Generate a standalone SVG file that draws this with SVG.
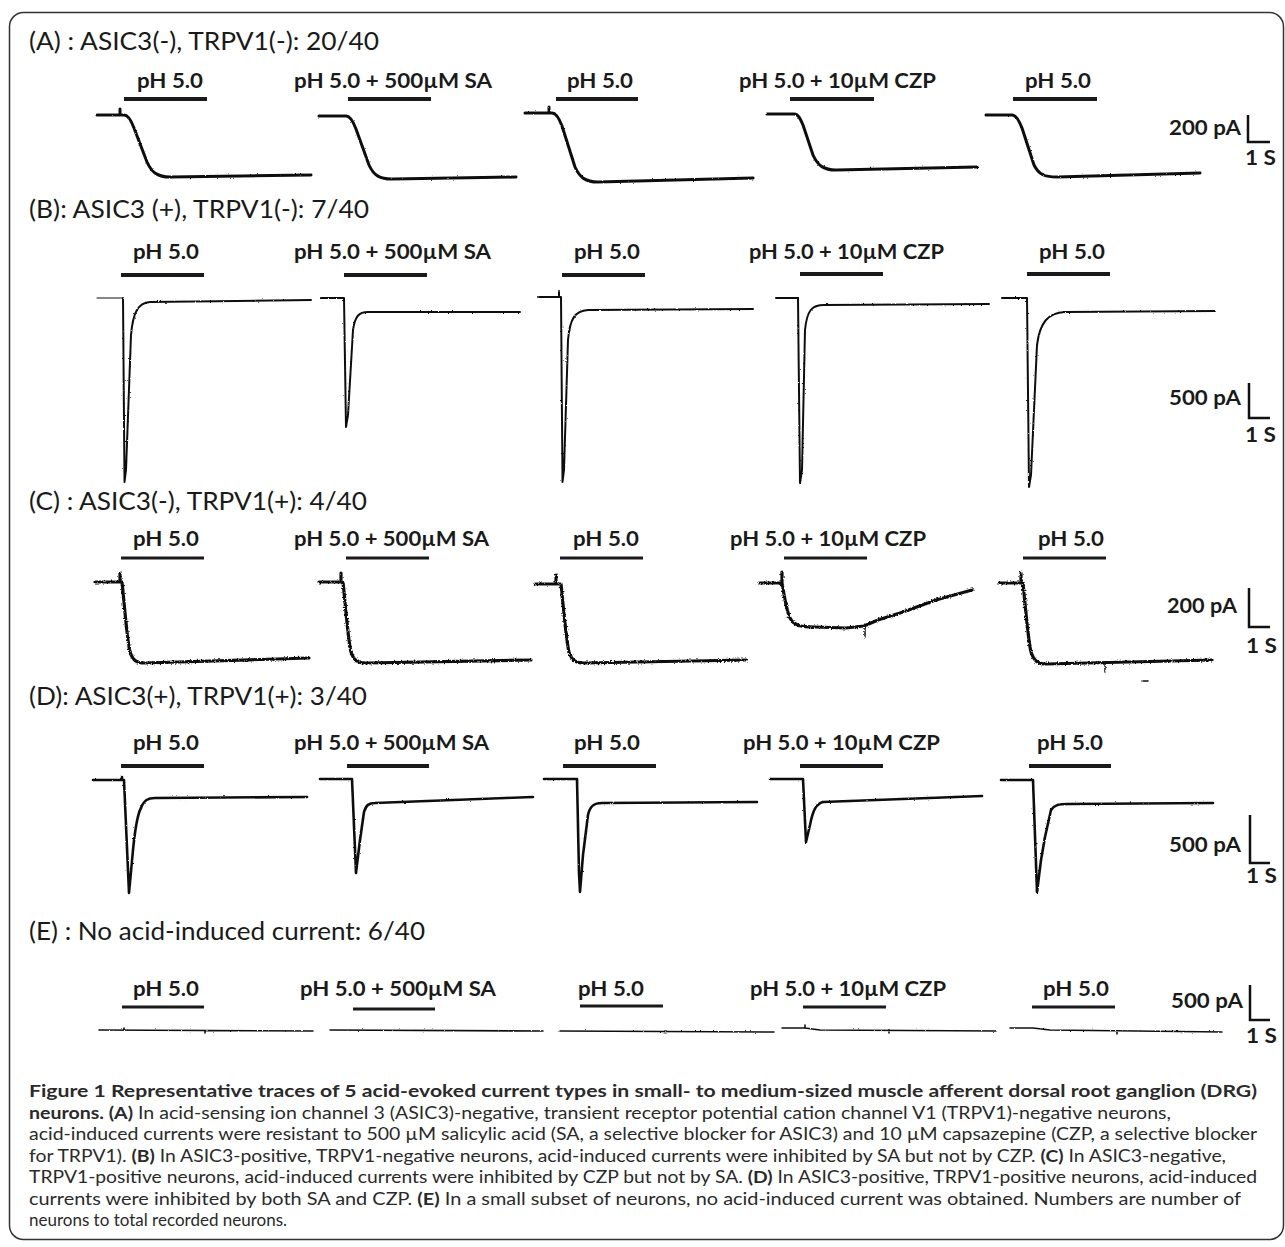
<svg xmlns="http://www.w3.org/2000/svg" width="1285" height="1247" viewBox="0 0 1285 1247">
<defs>
<style>
.hd{font-family:Lato,"Open Sans","Liberation Sans",sans-serif;font-size:25px;fill:#1a1a1a}
.lb{font-family:Lato,"Open Sans","Liberation Sans",sans-serif;font-size:21px;font-weight:700;fill:#1a1a1a}
.cap{font-family:Lato,"Open Sans","Liberation Sans",sans-serif;font-size:17px;fill:#2a2a2a}
.b{font-weight:700}
.bar{stroke:#1a1a1a;stroke-width:4;fill:none}
.barT{stroke:#1a1a1a;stroke-width:3;fill:none}
.tr{fill:none;stroke:#111;stroke-linejoin:round;stroke-linecap:round}
.sb{fill:none;stroke:#111;stroke-width:2.5}
</style>
<filter id="rough" filterUnits="userSpaceOnUse" x="0" y="0" width="1285" height="1247">
<feTurbulence type="fractalNoise" baseFrequency="0.6" numOctaves="1" seed="3"/>
<feDisplacementMap in="SourceGraphic" scale="2.2" xChannelSelector="R" yChannelSelector="G"/>
</filter>
<filter id="rough2" filterUnits="userSpaceOnUse" x="0" y="0" width="1285" height="1247">
<feTurbulence type="fractalNoise" baseFrequency="0.7" numOctaves="1" seed="7"/>
<feDisplacementMap in="SourceGraphic" scale="3.5" xChannelSelector="R" yChannelSelector="G"/>
</filter>
</defs>
<rect x="0" y="0" width="1285" height="1247" fill="#fff"/>
<rect id="frame" x="9.5" y="12.5" width="1274" height="1227" rx="14" fill="none" stroke="#333" stroke-width="1.5"/>

<g id="rowA">
<text class="hd" x="29" y="50" textLength="350" lengthAdjust="spacingAndGlyphs">(A) : ASIC3(-), TRPV1(-): 20/40</text>
<text class="lb" x="137" y="88" textLength="66" lengthAdjust="spacingAndGlyphs">pH 5.0</text>
<text class="lb" x="294" y="88" textLength="198" lengthAdjust="spacingAndGlyphs">pH 5.0 + 500µM SA</text>
<text class="lb" x="567" y="88" textLength="66" lengthAdjust="spacingAndGlyphs">pH 5.0</text>
<text class="lb" x="739" y="88" textLength="197" lengthAdjust="spacingAndGlyphs">pH 5.0 + 10µM CZP</text>
<text class="lb" x="1025" y="88" textLength="66" lengthAdjust="spacingAndGlyphs">pH 5.0</text>
<path class="bar" d="M124,99H207M348,99H431M556,99H638M790,99H874M1013,99H1097"/>
<g filter="url(#rough)">
<path class="tr" stroke-width="3" d="M97,115H124C128,115 131,120 134,128L147,162C152,173 158,177 170,177L311,175M120,115V109"/>
<path class="tr" stroke-width="3" d="M319,116H346C350,116 353,121 356,129L369,165C374,176 380,179 392,179L516,177"/>
<path class="tr" stroke-width="3" d="M525,113H552C556,113 559,118 562,126L575,167C580,178 586,182 598,182L753,178M549,113V107"/>
<path class="tr" stroke-width="3" d="M767,114H794C798,114 800,118 803,125L813,155C818,166 824,170 836,170L977,167"/>
<path class="tr" stroke-width="3" d="M986,115H1012C1016,115 1019,120 1022,128L1034,165C1039,175 1045,177 1057,177L1200,173"/>
</g>
<text class="lb" x="1169" y="135" textLength="72" lengthAdjust="spacingAndGlyphs">200 pA</text>
<text class="lb" x="1245" y="165" textLength="31" lengthAdjust="spacingAndGlyphs">1 S</text>
<path class="sb" d="M1248,115V142H1270"/>
</g>

<g id="rowB">
<text class="hd" x="29" y="218" textLength="340" lengthAdjust="spacingAndGlyphs">(B): ASIC3 (+), TRPV1(-): 7/40</text>
<text class="lb" x="133" y="259" textLength="66" lengthAdjust="spacingAndGlyphs">pH 5.0</text>
<text class="lb" x="294" y="259" textLength="197" lengthAdjust="spacingAndGlyphs">pH 5.0 + 500µM SA</text>
<text class="lb" x="574" y="259" textLength="66" lengthAdjust="spacingAndGlyphs">pH 5.0</text>
<text class="lb" x="749" y="259" textLength="195" lengthAdjust="spacingAndGlyphs">pH 5.0 + 10µM CZP</text>
<text class="lb" x="1039" y="259" textLength="66" lengthAdjust="spacingAndGlyphs">pH 5.0</text>
<path class="bar" d="M121,275H204M344,275H427M562,275H645M800,274H883M1027,274H1110"/>
<path class="tr" stroke="#888" stroke-width="1.2" d="M97,298H123"/>
<g filter="url(#rough)">
<path class="tr" stroke-width="2" d="M123,298L124.5,482L126,470L131,335C133,312 138,303 150,302L311,300"/>
<path class="tr" stroke-width="2" d="M321,298H344L346,427L348,415L353,330C355,316 359,312 368,312L520,312"/>
<path class="tr" stroke-width="2" d="M538,297H561L562.5,482L564,470L568,340C570,318 575,311 588,310L753,309M559,297V292"/>
<path class="tr" stroke-width="2" d="M776,298H798L800,483L802,470L805,330C807,310 812,305 824,305L989,304"/>
<path class="tr" stroke-width="2" d="M1002,298H1027L1029,487L1031,475L1037,345C1040,322 1048,313 1065,312L1215,311"/>
</g>
<text class="lb" x="1169" y="405" textLength="72" lengthAdjust="spacingAndGlyphs">500 pA</text>
<text class="lb" x="1245" y="442" textLength="31" lengthAdjust="spacingAndGlyphs">1 S</text>
<path class="sb" d="M1249,383V418H1270"/>
</g>

<g id="rowC">
<text class="hd" x="29" y="510" textLength="338" lengthAdjust="spacingAndGlyphs">(C) : ASIC3(-), TRPV1(+): 4/40</text>
<text class="lb" x="133" y="546" textLength="66" lengthAdjust="spacingAndGlyphs">pH 5.0</text>
<text class="lb" x="294" y="546" textLength="195" lengthAdjust="spacingAndGlyphs">pH 5.0 + 500µM SA</text>
<text class="lb" x="573" y="546" textLength="66" lengthAdjust="spacingAndGlyphs">pH 5.0</text>
<text class="lb" x="730" y="546" textLength="196" lengthAdjust="spacingAndGlyphs">pH 5.0 + 10µM CZP</text>
<text class="lb" x="1038" y="546" textLength="66" lengthAdjust="spacingAndGlyphs">pH 5.0</text>
<path class="barT" d="M121,558H204M346,558H429M560,558H643M784,558H867M1023,558H1106"/>
<g filter="url(#rough2)">
<path class="tr" stroke-width="3.2" d="M95,582H120V573V582H122C124,600 127,640 130,652C133,661 137,663 145,663L309,658"/>
<path class="tr" stroke-width="3.2" d="M319,582H341V573V582H343C345,600 348,640 351,652C354,661 358,663 366,663L531,660"/>
<path class="tr" stroke-width="3.2" d="M535,584H556V575V584H561C563,602 566,640 569,652C572,661 576,663 584,663L746,660"/>
<path class="tr" stroke-width="3.2" d="M760,583H782V572V583C784,595 787,612 790,618C794,626 802,627 815,627L846,628L864,626L878,620L903,612L936,600L972,590"/>
<path class="tr" stroke-width="1.5" d="M865,624V637"/>
<path class="tr" stroke-width="3.2" d="M999,583H1021V573V583H1023C1025,602 1028,640 1031,652C1034,661 1038,664 1046,664L1212,660"/>
<path class="tr" stroke-width="1.5" d="M1105,662V672M1143,681H1148"/>
</g>
<text class="lb" x="1167" y="613" textLength="70" lengthAdjust="spacingAndGlyphs">200 pA</text>
<text class="lb" x="1246" y="653" textLength="31" lengthAdjust="spacingAndGlyphs">1 S</text>
<path class="sb" d="M1249,588V627H1270"/>
</g>

<g id="rowD">
<text class="hd" x="29" y="705" textLength="338" lengthAdjust="spacingAndGlyphs">(D): ASIC3(+), TRPV1(+): 3/40</text>
<text class="lb" x="133" y="750" textLength="66" lengthAdjust="spacingAndGlyphs">pH 5.0</text>
<text class="lb" x="294" y="750" textLength="195" lengthAdjust="spacingAndGlyphs">pH 5.0 + 500µM SA</text>
<text class="lb" x="574" y="750" textLength="66" lengthAdjust="spacingAndGlyphs">pH 5.0</text>
<text class="lb" x="743" y="750" textLength="197" lengthAdjust="spacingAndGlyphs">pH 5.0 + 10µM CZP</text>
<text class="lb" x="1037" y="750" textLength="66" lengthAdjust="spacingAndGlyphs">pH 5.0</text>
<path class="bar" d="M121,766H204M347,766H429M563,766H656M800,766H883M1029,766H1111"/>
<g filter="url(#rough)">
<path class="tr" stroke-width="2.6" d="M93,780H122V777V780H124L129,893L133,850C135,830 137,815 141,808C144,800 148,798 155,798L307,797"/>
<path class="tr" stroke-width="2.6" d="M320,779H352L356,873L360,840L364,812C366,805 369,803 375,803L533,797"/>
<path class="tr" stroke-width="2.6" d="M544,779H577L579,873L580,892L583,855L588,815C590,806 594,803 602,803L757,802"/>
<path class="tr" stroke-width="2.6" d="M770,779H803L806,842L810,825C813,810 816,804 823,802L982,796"/>
<path class="tr" stroke-width="2.6" d="M1001,780H1033L1037,892L1041,860L1045,837L1051,810C1054,805 1059,804 1068,804L1213,803"/>
</g>
<text class="lb" x="1169" y="852" textLength="72" lengthAdjust="spacingAndGlyphs">500 pA</text>
<text class="lb" x="1246" y="883" textLength="31" lengthAdjust="spacingAndGlyphs">1 S</text>
<path class="sb" d="M1250,815V863H1270"/>
</g>

<g id="rowE">
<text class="hd" x="29" y="940" textLength="396" lengthAdjust="spacingAndGlyphs">(E) : No acid-induced current: 6/40</text>
<text class="lb" x="133" y="996" textLength="66" lengthAdjust="spacingAndGlyphs">pH 5.0</text>
<text class="lb" x="300" y="996" textLength="196" lengthAdjust="spacingAndGlyphs">pH 5.0 + 500µM SA</text>
<text class="lb" x="578" y="996" textLength="66" lengthAdjust="spacingAndGlyphs">pH 5.0</text>
<text class="lb" x="750" y="996" textLength="196" lengthAdjust="spacingAndGlyphs">pH 5.0 + 10µM CZP</text>
<text class="lb" x="1043" y="996" textLength="66" lengthAdjust="spacingAndGlyphs">pH 5.0</text>
<path class="barT" d="M122,1007H204M353,1009H435M580,1006H663M803,1007H886M1032,1007H1115"/>
<g filter="url(#rough)">
<path class="tr" stroke-width="1.6" d="M99,1030L313,1031M124,1030V1028M205,1031V1033"/>
<path class="tr" stroke-width="1.6" d="M330,1030L543,1031"/>
<path class="tr" stroke-width="1.6" d="M560,1031L774,1032M665,1031V1033"/>
<path class="tr" stroke-width="1.6" d="M782,1028L805,1028L820,1030L996,1031M805,1028V1025M889,1030V1033"/>
<path class="tr" stroke-width="1.6" d="M1010,1028L1033,1028L1050,1030L1222,1032M1117,1031V1034"/>
</g>
<text class="lb" x="1171" y="1008" textLength="72" lengthAdjust="spacingAndGlyphs">500 pA</text>
<text class="lb" x="1246" y="1043" textLength="31" lengthAdjust="spacingAndGlyphs">1 S</text>
<path class="sb" d="M1250,985V1020H1270"/>
</g>

<g id="caption">
<text class="cap b" x="29" y="1097" textLength="1228" lengthAdjust="spacingAndGlyphs">Figure 1 Representative traces of 5 acid-evoked current types in small- to medium-sized muscle afferent dorsal root ganglion (DRG)</text>
<text class="cap" x="29" y="1118.5" textLength="1142" lengthAdjust="spacingAndGlyphs"><tspan class="b">neurons. (A)</tspan> In acid-sensing ion channel 3 (ASIC3)-negative, transient receptor potential cation channel V1 (TRPV1)-negative neurons,</text>
<text class="cap" x="29" y="1140" textLength="1228" lengthAdjust="spacingAndGlyphs">acid-induced currents were resistant to 500 µM salicylic acid (SA, a selective blocker for ASIC3) and 10 µM capsazepine (CZP, a selective blocker</text>
<text class="cap" x="29" y="1161.5" textLength="1197" lengthAdjust="spacingAndGlyphs">for TRPV1). <tspan class="b">(B)</tspan> In ASIC3-positive, TRPV1-negative neurons, acid-induced currents were inhibited by SA but not by CZP. <tspan class="b">(C)</tspan> In ASIC3-negative,</text>
<text class="cap" x="29" y="1183" textLength="1228" lengthAdjust="spacingAndGlyphs">TRPV1-positive neurons, acid-induced currents were inhibited by CZP but not by SA. <tspan class="b">(D)</tspan> In ASIC3-positive, TRPV1-positive neurons, acid-induced</text>
<text class="cap" x="29" y="1204.5" textLength="1212" lengthAdjust="spacingAndGlyphs">currents were inhibited by both SA and CZP. <tspan class="b">(E)</tspan> In a small subset of neurons, no acid-induced current was obtained. Numbers are number of</text>
<text class="cap" x="29" y="1226">neurons to total recorded neurons.</text>
</g>
</svg>
